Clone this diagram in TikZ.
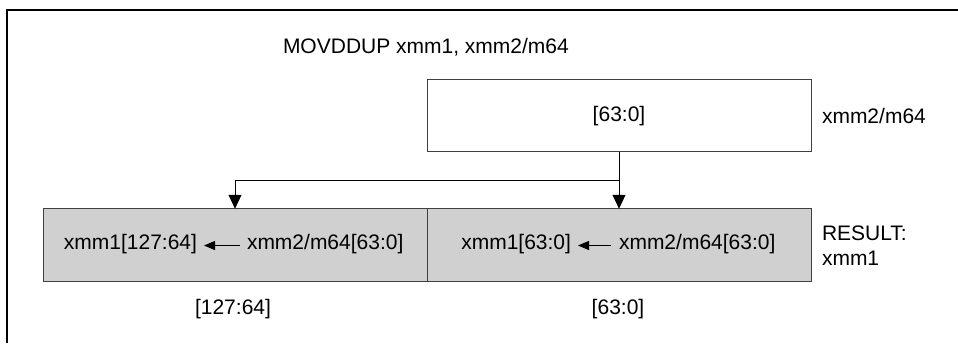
\documentclass[tikz,border=0pt]{standalone}
\usepackage{fontspec}
\setmainfont{Liberation Sans}
\usetikzlibrary{arrows.meta}
\definecolor{boxgray}{HTML}{D0D0D0}
\definecolor{edgegray}{HTML}{404040}
\begin{document}
\begin{tikzpicture}[x=1pt,y=-1pt,
  every node/.style={font=\fontsize{21}{25}\selectfont, inner sep=0pt, outer sep=0pt},
  regbox/.style={draw=edgegray, line width=1pt, minimum width=384pt, minimum height=72.5pt},
  resbox/.style={regbox, fill=boxgray},
  bigarrow/.style={line width=1pt, -{Triangle[width=13pt,length=14pt]}},
  smallarrow/.style={line width=1pt, -{Triangle[width=9pt,length=11pt]}}
]
\useasboundingbox (0,0) rectangle (958,343);
% outer frame (open to the right and bottom)
\draw[line width=2pt] (7,343) -- (7,10) -- (958,10);

% title
\node[anchor=west] (title) at (283,47) {MOVDDUP xmm1, xmm2/m64};

% source box
\node[regbox] (src) at (619,115.5) {};
\node (srctxt) at (619,116) {[63:0]};
\node[anchor=west] (srclbl) at (822,116) {xmm2/m64};

% result boxes
\node[resbox] (lbox) at (235,245) {};
\node[resbox] (rbox) at (619,245) {};
\node[anchor=west, align=left] (reslbl) at (822,246) {RESULT:\\xmm1};

% texts inside left box
\node[anchor=east] (l1) at (197,244) {xmm1[127:64]};
\node[anchor=west] (l2) at (247,244) {xmm2/m64[63:0]};
\draw[smallarrow, shorten <=7pt, shorten >=7pt] (l2.west |- 0,245.5) -- (l1.east |- 0,245.5);

% texts inside right box
\node[anchor=east] (r1) at (571,244) {xmm1[63:0]};
\node[anchor=west] (r2) at (619,244) {xmm2/m64[63:0]};
\draw[smallarrow, shorten <=8pt, shorten >=7pt] (r2.west |- 0,245.5) -- (r1.east |- 0,245.5);

% bit range labels
\node (lrange) at (233,309) {[127:64]};
\node (rrange) at (618,309) {[63:0]};

% connectors
\coordinate (j) at (619,180);
\draw[bigarrow] (src.south) -- (rbox.north);
\draw[bigarrow] (j) -| (lbox.north);
\end{tikzpicture}
\end{document}
